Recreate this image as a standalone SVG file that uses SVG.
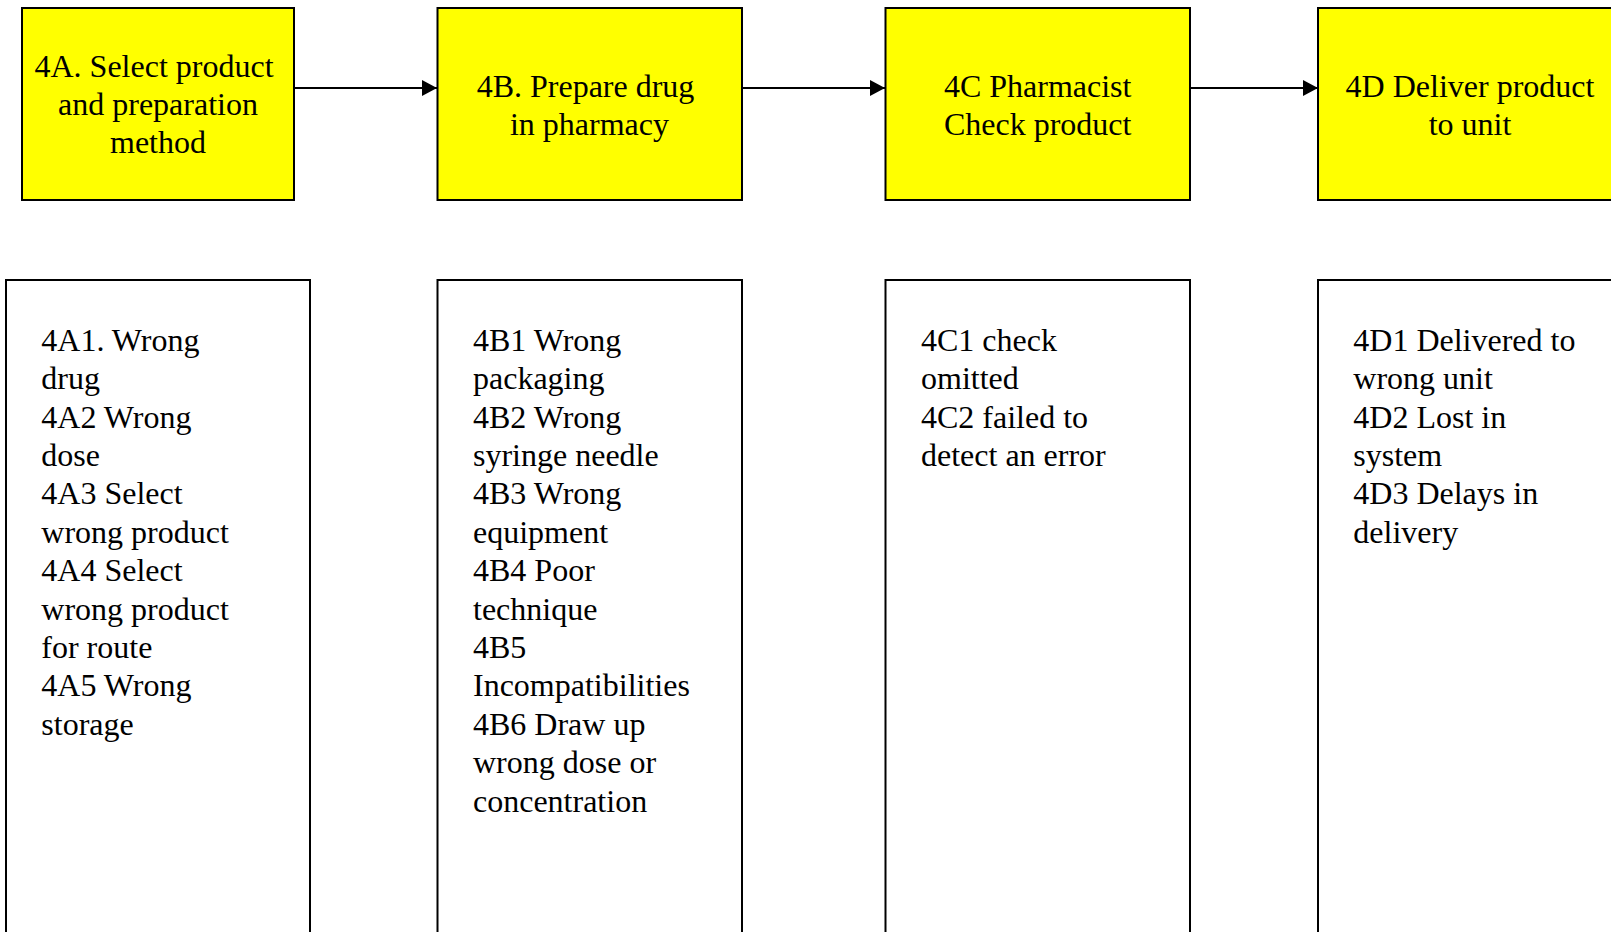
<svg xmlns="http://www.w3.org/2000/svg" width="1611" height="932" viewBox="0 0 1611 932">
<style>
.step{fill:#ffff00;stroke:#000;stroke-width:2}
.list{fill:#fff;stroke:#000;stroke-width:2}
text{font-family:"Liberation Serif","Times New Roman",serif;font-size:32px;fill:#000}
.c{text-anchor:middle}
.conn{stroke:#000;stroke-width:2;fill:none;marker-end:url(#ah)}
</style>
<defs>
<marker id="ah" markerUnits="userSpaceOnUse" markerWidth="15" markerHeight="16" refX="15" refY="8" orient="auto">
<path d="M0,0 L15,8 L0,16 z" fill="#000"/>
</marker>
</defs>
<rect width="1611" height="932" fill="#fff"/>
<g id="connectors">
<line class="conn" x1="294" y1="88" x2="437" y2="88"/>
<line class="conn" x1="742" y1="88" x2="885" y2="88"/>
<line class="conn" x1="1190" y1="88" x2="1318" y2="88"/>
</g>
<g id="n4A">
<rect class="step" x="22" y="8" width="272" height="192"/>
<text class="c" x="154" y="76.7">4A. Select product</text>
<text class="c" x="158" y="115">and preparation</text>
<text class="c" x="158" y="153.4">method</text>
</g>
<g id="n4B">
<rect class="step" x="437.5" y="8" width="304.5" height="192"/>
<text class="c" x="585.5" y="96.7">4B. Prepare drug</text>
<text class="c" x="589.5" y="135">in pharmacy</text>
</g>
<g id="n4C">
<rect class="step" x="885.5" y="8" width="304.5" height="192"/>
<text class="c" x="1037.7" y="96.7">4C Pharmacist</text>
<text class="c" x="1037.7" y="135">Check product</text>
</g>
<g id="n4D">
<rect class="step" x="1318" y="8" width="304" height="192"/>
<text class="c" x="1470" y="96.7">4D Deliver product</text>
<text class="c" x="1470" y="135">to unit</text>
</g>
<g id="l4A">
<rect class="list" x="6" y="280" width="304" height="680"/>
<text x="41.3" y="350.7">4A1. Wrong</text>
<text x="41.3" y="389.1">drug</text>
<text x="41.3" y="427.5">4A2 Wrong</text>
<text x="41.3" y="465.9">dose</text>
<text x="41.3" y="504.3">4A3 Select</text>
<text x="41.3" y="542.7">wrong product</text>
<text x="41.3" y="581.1">4A4 Select</text>
<text x="41.3" y="619.5">wrong product</text>
<text x="41.3" y="657.9">for route</text>
<text x="41.3" y="696.3">4A5 Wrong</text>
<text x="41.3" y="734.7">storage</text>
</g>
<g id="l4B">
<rect class="list" x="437.5" y="280" width="304.5" height="680"/>
<text x="473" y="350.7">4B1 Wrong</text>
<text x="473" y="389.1">packaging</text>
<text x="473" y="427.5">4B2 Wrong</text>
<text x="473" y="465.9">syringe needle</text>
<text x="473" y="504.3">4B3 Wrong</text>
<text x="473" y="542.7">equipment</text>
<text x="473" y="581.1">4B4 Poor</text>
<text x="473" y="619.5">technique</text>
<text x="473" y="657.9">4B5</text>
<text x="473" y="696.3">Incompatibilities</text>
<text x="473" y="734.7">4B6 Draw up</text>
<text x="473" y="773.1">wrong dose or</text>
<text x="473" y="811.5">concentration</text>
</g>
<g id="l4C">
<rect class="list" x="885.5" y="280" width="304.5" height="680"/>
<text x="921" y="350.7">4C1 check</text>
<text x="921" y="389.1">omitted</text>
<text x="921" y="427.5">4C2 failed to</text>
<text x="921" y="465.9">detect an error</text>
</g>
<g id="l4D">
<rect class="list" x="1318" y="280" width="304" height="680"/>
<text x="1353.3" y="350.7">4D1 Delivered to</text>
<text x="1353.3" y="389.1">wrong unit</text>
<text x="1353.3" y="427.5">4D2 Lost in</text>
<text x="1353.3" y="465.9">system</text>
<text x="1353.3" y="504.3">4D3 Delays in</text>
<text x="1353.3" y="542.7">delivery</text>
</g>
</svg>
